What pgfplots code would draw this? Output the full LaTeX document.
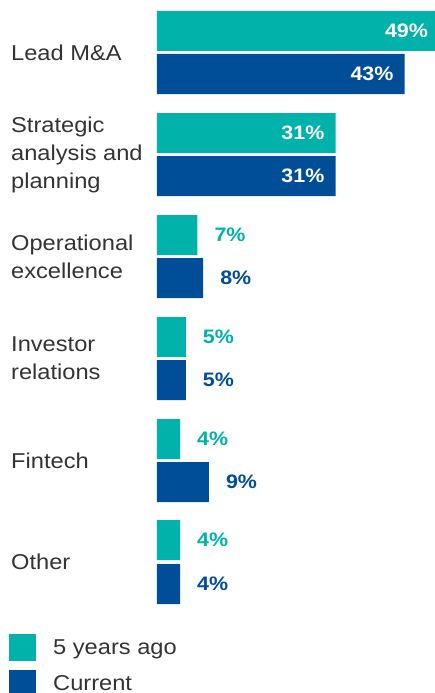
\documentclass[border=0pt]{standalone}
\usepackage{pgfplots}
\pgfplotsset{compat=1.18}
\usepackage{fontspec}
\setmainfont{Liberation Sans}[FakeStretch=1.1]
\definecolor{teal5}{HTML}{00B2A9}
\definecolor{blueC}{HTML}{004E98}
\definecolor{txt}{HTML}{333333}

\begin{document}
\begin{tikzpicture}
\begin{axis}[
    name=ax,
    xbar, bar shift=0pt,
    scale only axis,
    width=282.2pt, height=693pt,
    xmin=0, xmax=49,
    ymin=0, ymax=693, y dir=reverse,
    bar width=40,
    clip=false,
    axis line style={draw=none},
    xtick=\empty, ytick=\empty,
    /pgf/number format/assume math mode=true,
    point meta=x,
    nodes near coords={\pgfmathprintnumber{\pgfplotspointmeta}\%},
    nodes near coords style={inner sep=0pt, font=\bfseries\fontsize{19.5}{20}\selectfont},
    legend image code/.code={\fill[#1] (0pt,-13.5pt) rectangle (27pt,13.5pt);},
    legend style={at={(axis description cs:-0.5245,0.0851)}, anchor=north west,
        draw=none, fill=none, inner sep=0pt, row sep=9pt,
        nodes={inner sep=0pt, text=txt},
        font=\fontsize{21.5}{26}\selectfont,
        /tikz/every odd column/.append style={column sep=17pt}},
    legend cell align=left,
]
% 5 years ago, labels inside the bar
\addplot[fill=teal5, draw=none,
    every node near coord/.append style={anchor=east, xshift=-11pt, text=white}]
    coordinates {(49,31) (31,133)};
\addlegendentry{5 years ago}
% current, labels inside the bar
\addplot[fill=blueC, draw=none,
    every node near coord/.append style={anchor=east, xshift=-11pt, text=white}]
    coordinates {(43,74) (31,176)};
\addlegendentry{Current}
% 5 years ago, labels after the bar
\addplot[fill=teal5, draw=none, forget plot,
    every node near coord/.append style={anchor=west, xshift=17pt, text=teal5}]
    coordinates {(7,235) (5,337) (4,439) (4,540)};
% current, labels after the bar
\addplot[fill=blueC, draw=none, forget plot,
    every node near coord/.append style={anchor=west, xshift=17pt, text=blueC}]
    coordinates {(8,278) (5,380) (9,482) (4,584)};

\begin{scope}[every node/.style={anchor=west, align=left, inner sep=0pt, xshift=-146pt,
    text=txt, font=\fontsize{21.5}{28}\selectfont}]
\node at (axis cs:0,52.5) {Lead M\&A};
\node at (axis cs:0,154.5) {Strategic\\analysis and\\planning};
\node at (axis cs:0,256.5) {Operational\\excellence};
\node at (axis cs:0,358.5) {Investor\\relations};
\node at (axis cs:0,460.5) {Fintech};
\node at (axis cs:0,562) {Other};
\end{scope}
\end{axis}
\pgfresetboundingbox
\path ([xshift=-157pt]ax.south west) rectangle ([xshift=278pt]ax.north west);
\end{tikzpicture}
\end{document}
